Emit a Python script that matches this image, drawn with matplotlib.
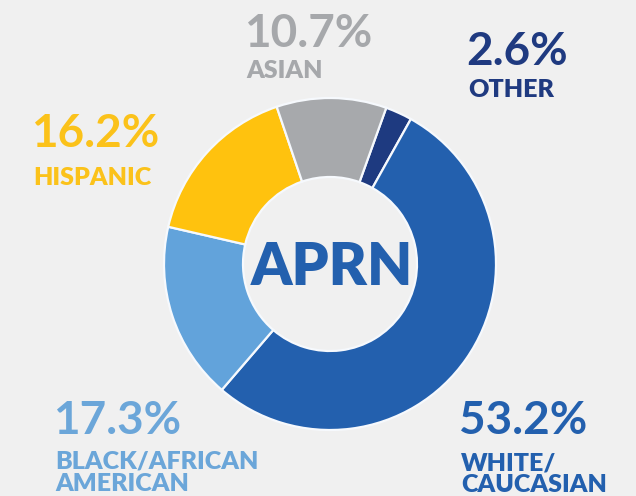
import matplotlib
matplotlib.use("Agg")
import matplotlib.pyplot as plt

# данные
groups = ["OTHER", "WHITE/\nCAUCASIAN", "BLACK/AFRICAN\nAMERICAN", "HISPANIC", "ASIAN"]
shares = [2.6, 53.2, 17.3, 16.2, 10.7]
colors = ["#1E3A80", "#2360AE", "#62A3DB", "#FFC20E", "#A7A9AC"]
text_colors = ["#1F3A80", "#2360AE", "#6BA6D9", "#FBC21A", "#A6A8AB"]

W, H = 636, 496
bg = "#F0F0F0"

fig = plt.figure(figsize=(W / 100, H / 100), dpi=100, facecolor=bg)
ax = fig.add_axes([0, 0, 1, 1])
ax.set_facecolor(bg)

# кольцевая диаграмма
ax.pie(shares, colors=colors, startangle=70.2, counterclock=False,
       center=(330, H - 264), radius=166,
       wedgeprops=dict(width=79, edgecolor="#F6F9FD", linewidth=1.6))

ax.set_xlim(0, W)
ax.set_ylim(0, H)
ax.set_aspect("equal")
ax.axis("off")

# подписи: (x, базовая линия процента, базовая линия названия)
label_pos = [(466, 65, 97), (459, 434, 470), (53, 434, 469), (31, 147, 185), (244, 47, 78)]

for share, name, col, (x, yp, yn) in zip(shares, groups, text_colors, label_pos):
    ax.text(x, H - yp, f"{share}%", color=col, fontsize=33, family="Lato",
            fontweight="bold", ha="left", va="baseline")
    lines = name.split("\n")
    for i, line in enumerate(lines):
        ax.text(x + 2, H - yn - 22 * i, line, color=col, fontsize=18,
                family="Lato", fontweight="heavy", ha="left", va="baseline")

ax.text(332, H - 285, "APRN", color="#2360AE", fontsize=42, family="Lato",
        fontweight="heavy", ha="center", va="baseline")

fig.savefig("out.png", dpi=100, facecolor=bg)
